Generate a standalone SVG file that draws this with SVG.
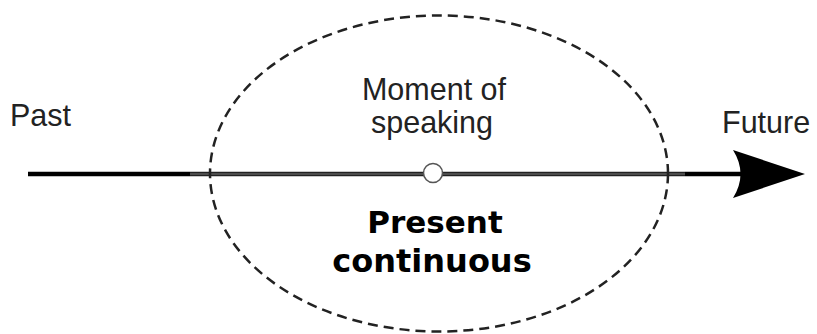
<svg xmlns="http://www.w3.org/2000/svg" width="817" height="334" viewBox="0 0 817 334">
  <style>
    .lbl { font-family: "Liberation Sans", Arial, sans-serif; font-size: 30.5px; fill: #222; }
    .bold { font-family: "DejaVu Sans", Verdana, sans-serif; font-weight: bold; fill: #000; }
    .dash { fill: none; stroke: #222; stroke-width: 2.5; stroke-dasharray: 10 6; }
  </style>
  <rect width="817" height="334" fill="#fff"/>
  <g id="connectors">
    <line x1="28" y1="174" x2="190" y2="174" stroke="#000" stroke-width="4.5"/>
    <line x1="190" y1="174" x2="685" y2="174" stroke="#222" stroke-width="4.5"/>
    <line x1="190" y1="174" x2="685" y2="174" stroke="#777" stroke-width="1"/>
    <line x1="685" y1="174" x2="742" y2="174" stroke="#000" stroke-width="4.5"/>
    <path d="M805,174 L733,150 Q748,174 733,198 Z" fill="#000"/>
  </g>
  <g id="present-ellipse">
    <ellipse class="dash" cx="439" cy="173.5" rx="229" ry="158"/>
  </g>
  <g id="moment">
    <circle cx="433" cy="173" r="9.5" fill="#fff" stroke="#555" stroke-width="1.5"/>
    <text class="lbl" x="434" y="100" text-anchor="middle">Moment of</text>
    <text class="lbl" x="432" y="133" text-anchor="middle">speaking</text>
  </g>
  <g id="past">
    <text class="lbl" x="10" y="126">Past</text>
  </g>
  <g id="future">
    <text class="lbl" x="722" y="133">Future</text>
  </g>
  <g id="present-continuous">
    <text class="bold" x="435" y="233" text-anchor="middle" font-size="31">Present</text>
    <text class="bold" x="432" y="272" text-anchor="middle" font-size="32">continuous</text>
  </g>
</svg>
